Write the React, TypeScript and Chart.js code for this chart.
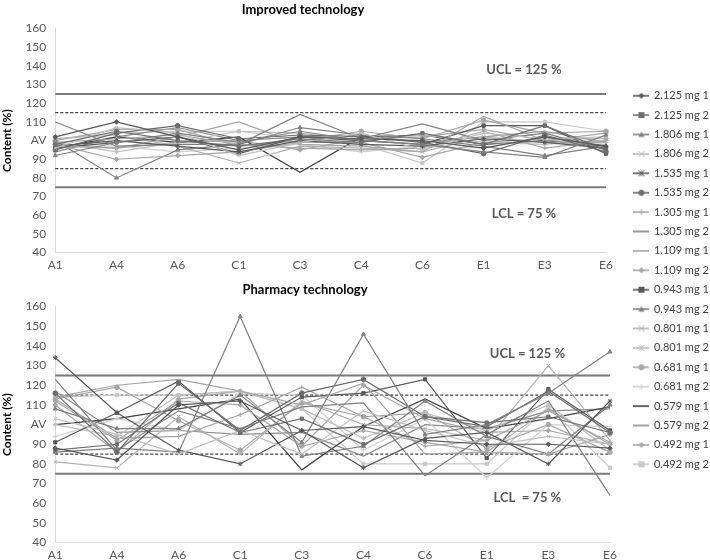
import React, { useEffect, useRef } from 'react';
import { Chart, registerables } from 'chart.js';
Chart.register(...registerables);

const categories = ['A1', 'A4', 'A6', 'C1', 'C3', 'C4', 'C6', 'E1', 'E3', 'E6'];

const seriesNames = [
  '2.125 mg 1', '2.125 mg 2', '1.806 mg 1', '1.806 mg 2', '1.535 mg 1',
  '1.535 mg 2', '1.305 mg 1', '1.305 mg 2', '1.109 mg 1', '1.109 mg 2',
  '0.943 mg 1', '0.943 mg 2', '0.801 mg 1', '0.801 mg 2', '0.681 mg 1',
  '0.681 mg 2', '0.579 mg 1', '0.579 mg 2', '0.492 mg 1', '0.492 mg 2',
];

const seriesColors = [
  '#595959', '#707070', '#808080', '#bfbfbf', '#595959',
  '#6b6b6b', '#a6a6a6', '#7f7f7f', '#a6a6a6', '#a6a6a6',
  '#595959', '#7f7f7f', '#b2b2b2', '#bfbfbf', '#a6a6a6',
  '#d0d0d0', '#404040', '#8c8c8c', '#a6a6a6', '#c8c8c8',
];

const seriesMarkers: (string | null)[] = [
  'rectRot', 'rect', 'triangle', 'crossRot', 'star',
  'circle', 'cross', null, null, 'rectRot',
  'rect', 'triangle', 'crossRot', 'star', 'circle',
  'cross', null, null, 'rectRot', 'rect',
];

// Improved technology (content %, one row per series)
const improvedData: number[][] = [
  [102, 110, 102, 95, 102, 101, 100, 96, 102, 97],
  [98, 105, 100, 97, 101, 99, 104, 98, 108, 95],
  [92, 99, 104, 99, 105, 100, 98, 94, 91, 103],
  [96, 107, 104, 92, 99, 104, 95, 104, 101, 102],
  [97, 100, 97, 94, 100, 98, 97, 101, 99, 96],
  [95, 104, 108, 101, 103, 102, 99, 93, 103, 94],
  [99, 101, 103, 98, 96, 95, 96, 105, 96, 100],
  [110, 97, 98, 98, 114, 101, 109, 100, 104, 95],
  [97, 96, 102, 110, 98, 97, 94, 113, 100, 99],
  [98, 90, 92, 94, 99, 99, 91, 99, 101, 101],
  [96, 99, 102, 93, 102, 100, 98, 108, 108, 93],
  [100, 80, 95, 98, 107, 103, 101, 97, 92, 97],
  [101, 103, 97, 88, 97, 96, 94, 102, 99, 98],
  [99, 94, 99, 105, 104, 100, 103, 99, 98, 100],
  [100, 106, 106, 97, 100, 105, 101, 111, 104, 105],
  [97, 97, 94, 96, 98, 94, 97, 96, 102, 99],
  [96, 102, 99, 102, 83, 102, 103, 98, 100, 97],
  [94, 102, 107, 100, 102, 103, 99, 102, 105, 99],
  [98, 96, 99, 100, 95, 101, 102, 106, 100, 104],
  [101, 104, 105, 105, 101, 98, 88, 110, 110, 105],
];

// Pharmacy technology (content %, one row per series)
const pharmacyData: number[][] = [
  [88, 82, 110, 112, 97, 99, 92, 90, 90, 88],
  [87, 90, 111, 96, 103, 90, 104, 101, 104, 96],
  [108, 98, 98, 115, 91, 146, 95, 100, 116, 137],
  [103, 95, 85, 97, 85, 107, 97, 89, 94, 90],
  [134, 106, 87, 80, 97, 78, 93, 96, 80, 112],
  [116, 86, 121, 97, 116, 123, 104, 99, 117, 96],
  [113, 93, 94, 105, 119, 104, 89, 92, 107, 91],
  [123, 87, 107, 98, 109, 111, 74, 95, 112, 64],
  [114, 120, 123, 117, 110, 121, 85, 86, 108, 90],
  [112, 92, 112, 110, 89, 97, 91, 86, 85, 95],
  [91, 106, 122, 96, 114, 116, 123, 83, 118, 97],
  [86, 88, 86, 155, 84, 89, 112, 94, 85, 110],
  [81, 78, 104, 85, 112, 100, 98, 92, 130, 92],
  [100, 94, 115, 117, 108, 93, 106, 97, 110, 87],
  [113, 119, 102, 87, 111, 104, 106, 88, 100, 86],
  [94, 103, 97, 116, 115, 87, 103, 73, 100, 99],
  [100, 103, 108, 113, 77, 99, 113, 98, 103, 109],
  [117, 96, 97, 95, 96, 84, 100, 98, 107, 108],
  [110, 86, 113, 117, 89, 120, 103, 96, 97, 90],
  [114, 115, 115, 117, 108, 80, 80, 80, 109, 78],
];

const UCL = 125;
const LCL = 75;
const upperWarn = 115;
const lowerWarn = 85;
const yMin = 40;
const yMax = 160;
const yStep = 10;
const avValue = 100;
const avLabel = 'AV';

const FONT = 'Lato, "Open Sans", "DejaVu Sans", sans-serif';

function buildDatasets(rows: number[][]) {
  const ds: any[] = rows.map((row, i) => ({
    label: seriesNames[i],
    data: row,
    borderColor: seriesColors[i],
    backgroundColor: seriesColors[i],
    pointBorderColor: seriesColors[i],
    pointBackgroundColor: seriesColors[i],
    borderWidth: 1.2,
    pointStyle: seriesMarkers[i] || 'circle',
    pointRadius: seriesMarkers[i] ? 2.3 : 0,
    pointBorderWidth: 1,
    tension: 0,
  }));
  const limit = (v: number, color: string, width: number, dash: number[]) => ({
    label: '',
    data: categories.map(() => v),
    borderColor: color,
    borderWidth: width,
    borderDash: dash,
    pointRadius: 0,
    tension: 0,
  });
  ds.push(limit(upperWarn, '#404040', 1.2, [3, 2]));
  ds.push(limit(lowerWarn, '#404040', 1.2, [3, 2]));
  ds.push(limit(UCL, '#7a7a7a', 2, []));
  ds.push(limit(LCL, '#7a7a7a', 2, []));
  return ds;
}

function limitLabelsPlugin(upperText: string, lowerText: string, xIdx: number, yUp: number, yLow: number) {
  return {
    id: 'limitLabels',
    afterDatasetsDraw(chart: any) {
      const { ctx, scales } = chart;
      ctx.save();
      ctx.font = `bold 13px ${FONT}`;
      ctx.fillStyle = '#595959';
      ctx.textAlign = 'center';
      ctx.textBaseline = 'middle';
      const x = scales.x.getPixelForValue(xIdx);
      ctx.fillText(upperText, x, scales.y.getPixelForValue(yUp));
      ctx.fillText(lowerText, x, scales.y.getPixelForValue(yLow));
      ctx.restore();
    },
  };
}

function panelConfig(rows: number[][], title: string, padRight: number, padBottom: number, titleGap: number, plugin: any) {
  return {
    type: 'line',
    data: { labels: categories, datasets: buildDatasets(rows) },
    options: {
      responsive: false,
      animation: false,
      layout: { padding: { left: 0, right: padRight, top: 0, bottom: padBottom } },
      plugins: {
        legend: { display: false },
        tooltip: { enabled: false },
        title: {
          display: true,
          text: title,
          color: '#000',
          font: { family: FONT, size: 13, weight: 'bold' },
          padding: { top: 2, bottom: titleGap },
        },
      },
      scales: {
        x: {
          offset: false,
          grid: { display: false, drawTicks: false },
          border: { display: true, color: '#d9d9d9', width: 1 },
          ticks: {
            color: '#595959',
            font: { family: FONT, size: 12 },
            padding: 5,
            maxRotation: 0,
            autoSkip: false,
          },
        },
        y: {
          min: yMin,
          max: yMax,
          grid: { display: false, drawTicks: false },
          border: { display: true, color: '#d9d9d9', width: 1 },
          ticks: {
            stepSize: yStep,
            color: '#595959',
            font: { family: FONT, size: 12 },
            padding: 9,
            callback: (v: any) => (v === avValue ? avLabel : v),
          },
          title: {
            display: true,
            text: 'Content (%)',
            color: '#000',
            font: { family: FONT, size: 12, weight: 'bold' },
            padding: { top: 0, bottom: 2 },
          },
        },
      },
    },
    plugins: [plugin],
  };
}

function makeIcon(color: string, marker: string | null) {
  const c = document.createElement('canvas');
  c.width = 16;
  c.height = 10;
  const g = c.getContext('2d')!;
  g.strokeStyle = color;
  g.fillStyle = color;
  g.lineWidth = 1.6;
  g.beginPath();
  g.moveTo(0, 5);
  g.lineTo(16, 5);
  g.stroke();
  const cx = 8, cy = 5, r = 3;
  g.lineWidth = 1;
  g.beginPath();
  switch (marker) {
    case 'rectRot':
      g.moveTo(cx, cy - r); g.lineTo(cx + r, cy); g.lineTo(cx, cy + r); g.lineTo(cx - r, cy); g.closePath(); g.fill();
      break;
    case 'rect':
      g.fillRect(cx - r, cy - r, 2 * r, 2 * r);
      break;
    case 'triangle':
      g.moveTo(cx, cy - r); g.lineTo(cx + r, cy + r * 0.8); g.lineTo(cx - r, cy + r * 0.8); g.closePath(); g.fill();
      break;
    case 'crossRot':
      g.moveTo(cx - r, cy - r); g.lineTo(cx + r, cy + r); g.moveTo(cx + r, cy - r); g.lineTo(cx - r, cy + r); g.stroke();
      break;
    case 'star':
      g.moveTo(cx - r, cy - r); g.lineTo(cx + r, cy + r); g.moveTo(cx + r, cy - r); g.lineTo(cx - r, cy + r);
      g.moveTo(cx, cy - r); g.lineTo(cx, cy + r); g.stroke();
      break;
    case 'circle':
      g.arc(cx, cy, r, 0, Math.PI * 2); g.fill();
      break;
    case 'cross':
      g.moveTo(cx, cy - r); g.lineTo(cx, cy + r); g.stroke();
      break;
    default:
      break;
  }
  return c;
}

export default function App() {
  const topRef = useRef<HTMLCanvasElement>(null);
  const botRef = useRef<HTMLCanvasElement>(null);
  const legRef = useRef<HTMLCanvasElement>(null);

  useEffect(() => {
    const top = new Chart(topRef.current!, panelConfig(improvedData, 'Improved technology', 78, 3, 11,
      limitLabelsPlugin('UCL = 125 %', 'LCL = 75 %', 7.66, 138, 61)) as any);
    const bot = new Chart(botRef.current!, panelConfig(pharmacyData, 'Pharmacy technology', 74, 3, 9,
      limitLabelsPlugin('UCL = 125 %', 'LCL  = 75 %', 7.66, 136, 63)) as any);
    const icons = seriesNames.map((_, i) => makeIcon(seriesColors[i], seriesMarkers[i]));
    const leg = new Chart(legRef.current!, {
      type: 'line',
      data: {
        labels: [],
        datasets: seriesNames.map((n, i) => ({ label: n, data: [], borderColor: seriesColors[i] })),
      },
      options: {
        responsive: false,
        animation: false,
        layout: { padding: 0 },
        scales: { x: { display: false }, y: { display: false } },
        plugins: {
          tooltip: { enabled: false },
          legend: {
            display: true,
            position: 'left',
            maxWidth: 90,
            onClick: () => {},
            labels: {
              usePointStyle: true,
              pointStyleWidth: 14,
              padding: 8.4,
              color: '#404040',
              font: { family: FONT, size: 11 },
              generateLabels: (chart: any) =>
                chart.data.datasets.map((ds: any, i: number) => ({
                  text: ds.label,
                  pointStyle: icons[i],
                  fillStyle: seriesColors[i],
                  strokeStyle: seriesColors[i],
                  lineWidth: 0,
                  hidden: false,
                  datasetIndex: i,
                  fontColor: '#404040',
                })),
            },
          },
        },
      },
    } as any);
    return () => {
      top.destroy();
      bot.destroy();
      leg.destroy();
    };
  }, []);

  return (
    <div style={{ position: 'absolute', left: 0, top: 0, width: 710, height: 560, background: '#fff', overflow: 'hidden' }}>
      <canvas ref={topRef} width={684} height={280} style={{ position: 'absolute', left: 0, top: 0 }} />
      <canvas ref={botRef} width={684} height={290} style={{ position: 'absolute', left: 0, top: 280 }} />
      <canvas ref={legRef} width={84} height={560} style={{ position: 'absolute', left: 626, top: 0 }} />
    </div>
  );
}
